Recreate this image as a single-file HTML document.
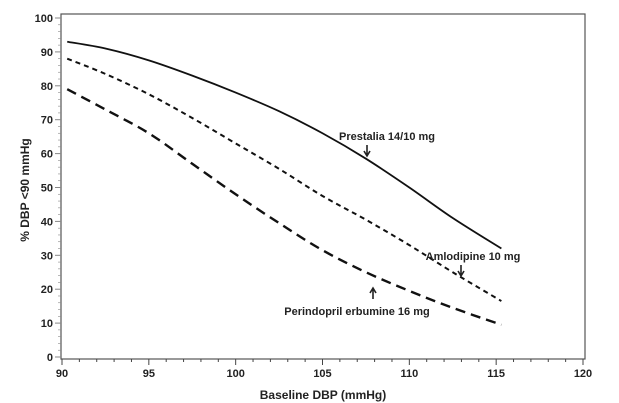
<!DOCTYPE html>
<html><head><meta charset="utf-8"><style>
body{margin:0;background:#fff;}
svg{display:block;font-family:"Liberation Sans",Arial,sans-serif;font-weight:bold;}
</style></head><body>
<svg id="chart" width="619" height="403" viewBox="0 0 619 403">
<rect x="61" y="14" width="524" height="345" fill="none" stroke="#555" stroke-width="1.2"/>
<g id="axes"></g><g id="series"></g>
<text x="387" y="140" font-size="11" text-anchor="middle" fill="#222">Prestalia 14/10 mg</text>
<path d="M367,145 V155 M364,151 L367,156 L370,151" stroke="#222" stroke-width="1.6" fill="none"/>
<text x="473" y="260" font-size="11" text-anchor="middle" fill="#222">Amlodipine 10 mg</text>
<path d="M461,265 V275 M458,271 L461,276 L464,271" stroke="#222" stroke-width="1.6" fill="none"/>
<text x="357" y="315" font-size="11" text-anchor="middle" fill="#222">Perindopril erbumine 16 mg</text>
<path d="M373,299 V289 M370,293 L373,288 L376,293" stroke="#222" stroke-width="1.6" fill="none"/>
<text x="323" y="399" font-size="12" text-anchor="middle" fill="#222">Baseline DBP (mmHg)</text>
<text transform="translate(29,190) rotate(-90)" font-size="12" text-anchor="middle" fill="#222">% DBP &lt;90 mmHg</text>
</svg>
<script>
const xTicks=[90,95,100,105,110,115,120];
const yTicks=[0,10,20,30,40,50,60,70,80,90,100];
const dbp=[90.3,92.5,95,97.5,100,102.5,105,107.5,110,112.5,115.3];
const prestalia=[93,91,87.5,83,78,72.5,66,58.5,50,41,32];
const amlodipine=[88,83.5,77.5,70.5,63,55.5,47.5,40.5,33,25,16.5];
const perindopril=[79,73,66,57,48,39.5,31.5,25,19.5,14.5,9.5];
const NS="http://www.w3.org/2000/svg";
function sx(v){return 62+(v-90)*521/30;}
function sy(v){return 357-v*3.39;}
const ax=document.getElementById('axes'),se=document.getElementById('series');
function mk(tag,attrs,parent){const e=document.createElementNS(NS,tag);for(const k in attrs)e.setAttribute(k,attrs[k]);parent.appendChild(e);return e;}
for(let v=90;v<=120;v++){
 const t=mk('line',{x1:sx(v),x2:sx(v),y1:359,y2:v%5===0?365:362,stroke:'#444','stroke-width':1},ax);
 
 
}
xTicks.forEach(v=>{const t=mk('text',{x:sx(v),y:377,'font-size':11,'text-anchor':'middle',fill:'#222'},ax);t.textContent=v;
 
 });
for(let v=0;v<=100;v+=2){
 const t=mk('line',{x1:v%10===0?55:58,x2:61,y1:sy(v),y2:sy(v),stroke:'#888','stroke-width':v%10===0?1:0.6},ax);
 
 
}
yTicks.forEach(v=>{const t=mk('text',{x:53,y:sy(v)+4,'font-size':11,'text-anchor':'end',fill:'#222'},ax);t.textContent=v;
 
 });
function path(vals){
 const p=dbp.map((x,i)=>[sx(x),sy(vals[i])]);
 let d='M'+p[0][0]+','+p[0][1];
 for(let i=0;i<p.length-1;i++){
  const p0=p[i-1]||p[i],p1=p[i],p2=p[i+1],p3=p[i+2]||p2;
  d+=' C'+(p1[0]+(p2[0]-p0[0])/6)+','+(p1[1]+(p2[1]-p0[1])/6)+' '+(p2[0]-(p3[0]-p1[0])/6)+','+(p2[1]-(p3[1]-p1[1])/6)+' '+p2[0]+','+p2[1];
 }
 return d;
}
const l1=mk('path',{d:path(prestalia),fill:'none',stroke:'#111','stroke-width':1.8},se);


const l2=mk('path',{d:path(amlodipine),fill:'none',stroke:'#111','stroke-width':2,'stroke-dasharray':'5,4'},se);


const l3=mk('path',{d:path(perindopril),fill:'none',stroke:'#111','stroke-width':2.4,'stroke-dasharray':'10,6'},se);


</script>
</body></html>
